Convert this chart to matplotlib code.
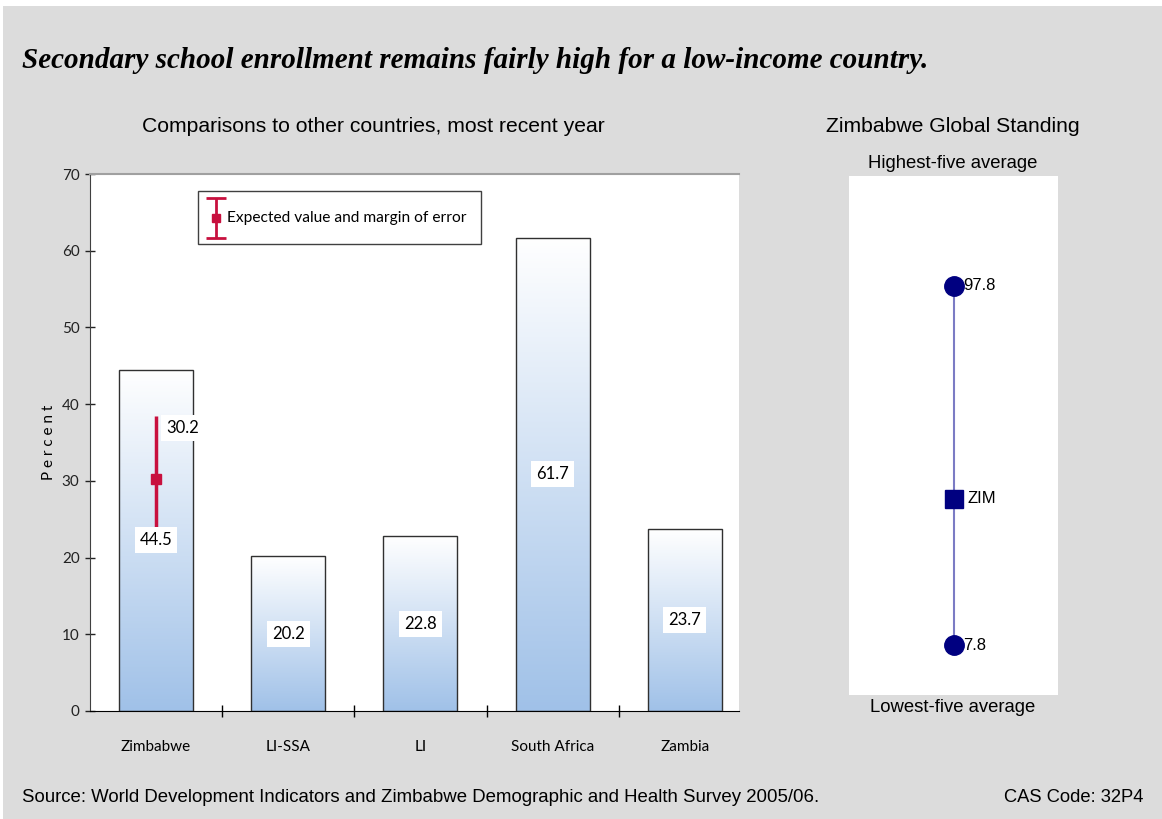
import numpy as np
import matplotlib
matplotlib.use("Agg")
import matplotlib.pyplot as plt
from matplotlib.patches import Rectangle
from matplotlib.colors import LinearSegmentedColormap

# ---------------------------
# Data
# ---------------------------
countries = ["Zimbabwe", "LI-SSA", "LI", "South Africa", "Zambia"]
enrollment = [44.5, 20.2, 22.8, 61.7, 23.7]

# expected value and margin of error for Zimbabwe
expected_value = 30.2
margin_of_error = 8.3

# global standing panel
standing_labels = ["97.8", "ZIM", "7.8"]
standing_values = [97.8, 44.5, 7.8]

TICK_FONT = ["Lato", "DejaVu Sans"]
ARIAL = ["Liberation Sans", "DejaVu Sans"]
BG = "#dcdcdc"
CRIMSON = "#c8103e"
NAVY = "#000080"

fig = plt.figure(figsize=(11.62, 8.19), dpi=100, facecolor=BG)

# thin white margin along top and left edge
fig.add_artist(Rectangle((0, 1 - 6 / 819), 1, 6 / 819, transform=fig.transFigure,
                         facecolor="white", edgecolor="none", zorder=0))
fig.add_artist(Rectangle((0, 0), 3 / 1162, 1, transform=fig.transFigure,
                         facecolor="white", edgecolor="none", zorder=0))

fig.text(22 / 1162, 1 - 60 / 819,
         "Secondary school enrollment remains fairly high for a low-income country.",
         family=["Liberation Serif"], style="italic", weight="bold", fontsize=21,
         va="center", ha="left")

# ---------------------------
# Bar chart
# ---------------------------
ax = fig.add_axes([90 / 1162, 1 - 711 / 819, 649 / 1162, 537 / 819])
ax.set_facecolor("white")
x = np.arange(len(countries))
ax.set_xlim(-0.5, 4.41)
ax.set_ylim(0, 70)

# white at the top of each bar fading to light blue at the base
cmap = LinearSegmentedColormap.from_list("barfill", ["#ffffff", "#a0c1e8"])
grad = np.linspace(0, 1, 256).reshape(-1, 1)
bars = ax.bar(x, enrollment, width=0.56, facecolor="none", edgecolor="#303030",
              linewidth=1.0, zorder=3)
for b in bars:
    x0, w, h = b.get_x(), b.get_width(), b.get_height()
    im = ax.imshow(grad, cmap=cmap, aspect="auto", extent=[x0, x0 + w, 0, h],
                   origin="upper", zorder=2)
    im.set_clip_path(b)

for xi, v in zip(x, enrollment):
    ax.text(xi, v / 2, f"{v:.1f}", ha="center", va="center", fontsize=12,
            family=TICK_FONT, zorder=6,
            bbox=dict(boxstyle="square,pad=0.3", facecolor="white", edgecolor="none"))

# error bar for Zimbabwe
ax.errorbar([x[0]], [expected_value], yerr=margin_of_error, fmt="s", color=CRIMSON,
            markersize=7, elinewidth=2.5, capsize=0, zorder=5)
ax.text(x[0] + 0.2, expected_value + margin_of_error - 1.6, f"{expected_value:.1f}",
        ha="center", va="center", fontsize=12, family=TICK_FONT, zorder=6,
        bbox=dict(boxstyle="square,pad=0.3", facecolor="white", edgecolor="none"))

# legend box
ax.add_patch(Rectangle((0.317, 60.9), 2.14, 6.9, facecolor="white", edgecolor="#404040",
                       linewidth=1.0, zorder=4))
ax.errorbar([0.45], [64.3], yerr=2.6, fmt="s", color=CRIMSON, markersize=6,
            elinewidth=2.0, capsize=7, capthick=2.0, zorder=5)
ax.text(0.54, 64.3, "Expected value and margin of error", fontsize=11.2,
        family=TICK_FONT, va="center", ha="left", zorder=5)

ax.set_yticks(range(0, 71, 10))
ax.tick_params(axis="y", direction="inout", length=7, width=1, pad=4,
               labelsize=11, colors="#222222")
ax.set_xticks([0.5, 1.5, 2.5, 3.5])
ax.set_xticklabels([])
ax.set_xticks(x, minor=True)
ax.set_xticklabels(countries, minor=True)
ax.tick_params(axis="x", which="major", direction="inout", length=9, width=1)
ax.tick_params(axis="x", which="minor", length=0, pad=21, labelsize=11)
for lbl in ax.get_yticklabels() + ax.get_xticklabels(minor=True):
    lbl.set_family(TICK_FONT)

ax.spines["right"].set_visible(False)
ax.spines["top"].set_color("#a0a0a0")
ax.spines["top"].set_linewidth(1.5)
ax.spines["left"].set_color("#404040")
ax.spines["bottom"].set_color("black")
ax.set_ylabel("P e r c e n t", family=TICK_FONT, fontsize=11, labelpad=4)

fig.text(373 / 1162, 1 - 127 / 819, "Comparisons to other countries, most recent year",
         family=ARIAL, fontsize=15.2, ha="center", va="center")

# ---------------------------
# Global standing panel
# ---------------------------
ax2 = fig.add_axes([849 / 1162, 1 - 695 / 819, 209 / 1162, 519 / 819])
ax2.set_facecolor("white")
ax2.set_xlim(-1, 1.0)
ax2.set_ylim(-4.7, 125.3)
ax2.plot([0, 0], [standing_values[2], standing_values[0]], color="#7b7bc4",
         linewidth=1.5, zorder=1)
ax2.plot([0, 0], [standing_values[0], standing_values[2]], "o", color=NAVY,
         markersize=14, zorder=2)
ax2.plot([0], [standing_values[1]], "s", color=NAVY, markersize=13, zorder=2)
offsets = [0.09, 0.13, 0.09]
for lbl, v, dx in zip(standing_labels, standing_values, offsets):
    ax2.text(dx, v, lbl, family=ARIAL, fontsize=12, ha="left", va="center")
ax2.set_xticks([])
ax2.set_yticks([])
for s in ax2.spines.values():
    s.set_visible(False)

fig.text(953 / 1162, 1 - 127 / 819, "Zimbabwe Global Standing", family=ARIAL,
         fontsize=15.2, ha="center", va="center")
fig.text(953 / 1162, 1 - 164 / 819, "Highest-five average", family=ARIAL,
         fontsize=13.3, ha="center", va="center")
fig.text(953 / 1162, 1 - 707 / 819, "Lowest-five average", family=ARIAL,
         fontsize=13.3, ha="center", va="center")

# ---------------------------
# Footer
# ---------------------------
fig.text(22 / 1162, 1 - 798 / 819,
         "Source: World Development Indicators and Zimbabwe Demographic and Health Survey 2005/06.",
         family=ARIAL, fontsize=13.4, ha="left", va="center")
fig.text(1143 / 1162, 1 - 798 / 819, "CAS Code: 32P4", family=ARIAL, fontsize=13.2,
         ha="right", va="center")

fig.savefig("out.png", dpi=100, facecolor=BG)
